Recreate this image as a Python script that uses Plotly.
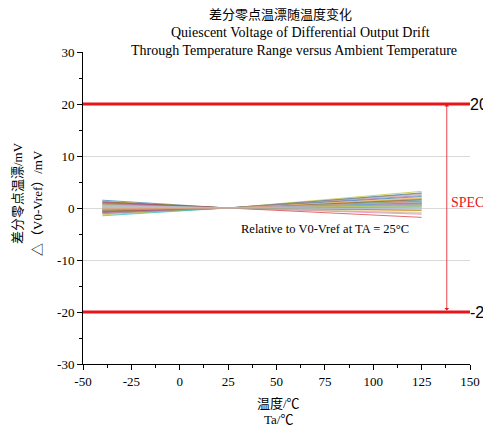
import plotly.graph_objects as go

# Data
temps = [-40, 25, 125]
drift_cold = [1.5, 1.3, 1.2, 1.1, 1.0, 0.9, 0.8, 0.7, 0.6, 0.5, 0.45, 0.4, 0.3, 0.25, 0.2, 0.1, 0.05, 0.0,
              -0.1, -0.15, -0.2, -0.3, -0.35, -0.4, -0.5, -0.55, -0.6, -0.7, -0.8, -0.9, -1.0, -1.1, -1.3,
              -1.5, 0.35, -0.25, 0.15, -0.05, 0.55, -0.45]
drift_hot = [2.9, -0.5, 1.8, 0.6, 2.4, 1.2, -1.2, 0.9, 3.2, 1.5, 0.3, 2.0, -0.2, 1.0, 0.7, 2.6, 0.4, 1.4,
             -0.8, 1.1, 0.2, 1.7, 0.8, -0.4, 2.2, 0.5, 1.3, -1.8, 0.9, 1.6, 0.0, 2.8, 0.6, 1.0, -0.1,
             1.9, 0.4, 1.2, 0.8, -1.0]
spec_limits = [20, -20]
x_ticks = [-50, -25, 0, 25, 50, 75, 100, 125, 150]
x_labels = ["-50", "-25", "0", "25", "50", "75", "100", "125", "150"]
y_ticks = [-30, -20, -10, 0, 10, 20, 30]
y_labels = ["-30", "-20", "-10", "0", "10", "20", "30"]

colors = ["#1f77b4", "#ff7f0e", "#2ca02c", "#d62728", "#9467bd", "#8c564b", "#e377c2", "#7f7f7f",
          "#bcbd22", "#17becf", "#aec7e8", "#ffbb78", "#98df8a", "#ff9896", "#c5b0d5", "#c49c94",
          "#f7b6d2", "#c7c7c7", "#dbdb8d", "#9edae5", "#4c9a2a", "#e6a000", "#3366cc", "#66aa00"]

SERIF = "Liberation Serif, Times New Roman, Noto Sans CJK SC, serif"
OFF = 8  # page body margin
W, H = 491 - OFF, 429 - OFF
ML, MT = 83 - OFF, 52 - OFF
MR = W - (470 - OFF)
MB = H - (364 - OFF)
PW, PH = W - ML - MR, H - MT - MB

def px_x(p):
    return (p - OFF - ML) / PW

def px_y(p):
    return 1 - (p - OFF - MT) / PH

fig = go.Figure()
for i, (c, h) in enumerate(zip(drift_cold, drift_hot)):
    fig.add_trace(go.Scatter(x=temps, y=[c, 0, h], mode="lines",
                             line=dict(color=colors[i % len(colors)], width=0.8),
                             opacity=0.85, showlegend=False, hoverinfo="skip"))

for lim in spec_limits:
    fig.add_shape(type="line", xref="x", yref="y", x0=-50, x1=150, y0=lim, y1=lim,
                  line=dict(color="#e8141c", width=3))
    fig.add_annotation(x=1.0, xref="paper", y=lim, yref="y", text=str(lim), showarrow=False,
                       xanchor="left", yanchor="middle", xshift=-2,
                       font=dict(family="Liberation Sans, Arial, sans-serif", size=16, color="black"))

fig.add_annotation(x=138, y=spec_limits[0], ax=138, ay=spec_limits[1], xref="x", yref="y",
                   axref="x", ayref="y", text="", showarrow=True, arrowhead=1, startarrowhead=1,
                   arrowside="end+start", arrowsize=1, arrowwidth=0.8, arrowcolor="#e8141c",
                   standoff=0, startstandoff=0)
fig.add_annotation(x=140.7, y=1.0, xref="x", yref="y", text="SPEC", showarrow=False,
                   xanchor="left", yanchor="middle", xshift=-3,
                   font=dict(family=SERIF, size=14, color="#e8141c"))
fig.add_annotation(x=75, y=-4, xref="x", yref="y", text="Relative to V0-Vref at TA = 25°C",
                   showarrow=False, font=dict(family=SERIF, size=12.5, color="black"))

titles = ["差分零点温漂随温度变化", "Quiescent Voltage of Differential Output Drift",
          "Through Temperature Range versus Ambient Temperature"]
title_x = [280, 300, 294]
title_y = [14, 32, 50]
title_size = [13, 14, 14]
for t, xx, yy, sz in zip(titles, title_x, title_y, title_size):
    fig.add_annotation(x=px_x(xx), xref="paper", y=px_y(yy), yref="paper", text=t,
                       showarrow=False, yanchor="middle", xanchor="center",
                       font=dict(family=SERIF, size=sz, color="black"))

# axis titles
fig.add_annotation(x=px_x(278), xref="paper", y=px_y(403), yref="paper", text="温度/℃",
                   showarrow=False, yanchor="middle", font=dict(family=SERIF, size=13))
fig.add_annotation(x=px_x(278), xref="paper", y=px_y(419), yref="paper", text="Ta/℃",
                   showarrow=False, yanchor="middle", font=dict(family=SERIF, size=13))
fig.add_annotation(x=px_x(18), xref="paper", y=px_y(193), yref="paper", text="差分零点温漂/mV",
                   showarrow=False, textangle=-90, xanchor="center", yanchor="middle",
                   font=dict(family=SERIF, size=13))
fig.add_annotation(x=px_x(37), xref="paper", y=px_y(203), yref="paper", text="△（V0-Vref）/mV",
                   showarrow=False, textangle=-90, xanchor="center", yanchor="middle",
                   font=dict(family=SERIF, size=13))

fig.update_layout(
    width=W, height=H,
    margin=dict(l=ML, r=MR, t=MT, b=MB, autoexpand=False),
    paper_bgcolor="white", plot_bgcolor="white",
    font=dict(family=SERIF, size=13, color="black"),
)

fig.update_xaxes(range=[-50, 150], tickvals=x_ticks, ticktext=x_labels, showgrid=False, zeroline=False,
                 showline=True, linecolor="black", linewidth=1, ticks="outside", ticklen=5,
                 tickcolor="black", automargin=False,
                 minor=dict(ticks="outside", dtick=12.5, ticklen=3, tickcolor="black"))
fig.update_yaxes(range=[-30, 30], tickvals=y_ticks, ticktext=y_labels, showgrid=True, gridcolor="#d9d9d9",
                 gridwidth=1, zeroline=False, showline=True, linecolor="black", linewidth=1,
                 ticks="outside", ticklen=5, tickcolor="black", automargin=False,
                 minor=dict(ticks="outside", dtick=5, ticklen=3, tickcolor="black", showgrid=False))

fig.write_html("out.html")
